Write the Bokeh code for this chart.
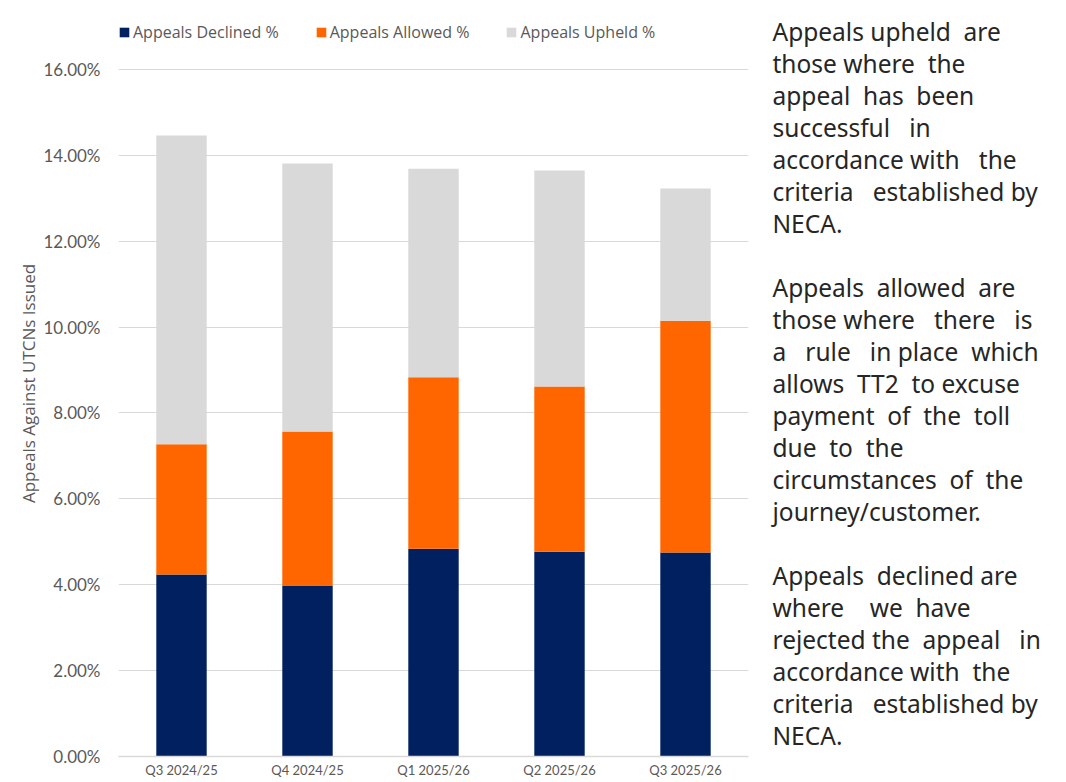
from bokeh.plotting import figure
from bokeh.models import (ColumnDataSource, Range1d, Legend, LegendItem,
                          PrintfTickFormatter, FixedTicker)
from bokeh.layouts import row
from bokeh.core.properties import value
from bokeh.embed import file_html
from bokeh.resources import INLINE

quarters = ["Q3 2024/25", "Q4 2024/25", "Q1 2025/26", "Q2 2025/26", "Q3 2025/26"]
declined = [4.24, 3.98, 4.84, 4.77, 4.75]
allowed = [3.03, 3.59, 3.99, 3.85, 5.40]
upheld = [7.19, 6.24, 4.86, 5.03, 3.08]
series_names = ["Appeals Declined %", "Appeals Allowed %", "Appeals Upheld %"]
y_ticks = [0, 2, 4, 6, 8, 10, 12, 14, 16]

NB = "\u00a0"
notes = [
    "Appeals upheld  are",
    "those where  the",
    "appeal  has  been",
    "successful   in",
    "accordance with   the",
    "criteria   established by",
    "NECA.",
    "",
    "Appeals  allowed  are",
    "those where   there   is",
    "a   rule   in place  which",
    "allows  TT2  to excuse",
    "payment  of  the  toll",
    "due  to  the",
    "circumstances  of  the",
    "journey/customer.",
    "",
    "Appeals  declined are",
    "where    we  have",
    "rejected the  appeal   in",
    "accordance with  the",
    "criteria   established by",
    "NECA.",
]
notes_txt = [s.replace("  ", " " + NB) for s in notes]

colors = ["#002060", "#FF6600", "#D9D9D9"]
tick_font = "Lato"
label_font = "Open Sans"
gray = "#595959"

src = ColumnDataSource(dict(q=quarters, d=declined, a=allowed, u=upheld))

H = 780
TOP, BOT = 10, 24
p = figure(x_range=quarters, y_range=Range1d(0, 17.374), width=758, height=H,
           output_backend="svg", toolbar_location=None,
           min_border_left=118, min_border_right=10, min_border_top=TOP,
           min_border_bottom=BOT)
p.outline_line_color = None
p.background_fill_color = "white"

rs = p.vbar_stack(["d", "a", "u"], x="q", width=0.4, source=src,
                  color=colors, line_color=None)

p.yaxis.ticker = FixedTicker(ticks=y_ticks)
p.yaxis.formatter = PrintfTickFormatter(format="%.2f%%")
p.yaxis.axis_line_color = None
p.yaxis.major_tick_line_color = None
p.yaxis.minor_tick_line_color = None
p.yaxis.major_tick_out = 0
p.yaxis.major_label_standoff = 18
p.yaxis.major_label_text_font = tick_font
p.yaxis.major_label_text_font_size = "17px"
p.yaxis.major_label_text_color = gray
p.yaxis.axis_label = "Appeals Against UTCNs Issued"
p.yaxis.axis_label_text_font = label_font
p.yaxis.axis_label_text_font_style = "normal"
p.yaxis.axis_label_text_font_size = "17px"
p.yaxis.axis_label_text_color = gray
p.yaxis.axis_label_standoff = 0

p.xaxis.axis_line_color = "#D9D9D9"
p.xaxis.axis_line_width = 1.5
p.xaxis.major_tick_line_color = None
p.xaxis.minor_tick_line_color = None
p.xaxis.major_tick_out = 0
p.xaxis.major_label_standoff = 5
p.xaxis.major_label_text_font = tick_font
p.xaxis.major_label_text_font_size = "13px"
p.xaxis.major_label_text_color = gray

p.xgrid.grid_line_color = None
p.ygrid.ticker = FixedTicker(ticks=y_ticks)
p.ygrid.grid_line_color = "#D9D9D9"
p.ygrid.grid_line_width = 1

legend = Legend(items=[LegendItem(label=n, renderers=[r]) for n, r in zip(series_names, rs)],
                orientation="horizontal", location=(0, 713))
legend.background_fill_alpha = 0
legend.border_line_color = None
legend.padding = 0
legend.margin = 0
legend.spacing = 36
legend.label_standoff = 3
legend.glyph_width = 12
legend.glyph_height = 12
legend.label_text_font = label_font
legend.label_text_font_size = "16px"
legend.label_text_color = gray
legend.label_height = 16
p.add_layout(legend)

# explanatory notes panel (frame aligned with the chart's frame: pixel rows TOP..H-BOT)
TW = 300
t = figure(x_range=Range1d(0, TW), y_range=Range1d(H - BOT, TOP), width=TW, height=H,
           output_backend="svg", toolbar_location=None,
           x_axis_location=None, y_axis_location=None,
           min_border_left=0, min_border_right=0, min_border_top=TOP,
           min_border_bottom=BOT)
t.grid.visible = False
t.outline_line_color = None
t.background_fill_color = "white"
ys = [31 + 32 * i for i in range(len(notes_txt))]
tsrc = ColumnDataSource(dict(x=[14] * len(notes_txt), y=ys, text=notes_txt))
t.text(x="x", y="y", text="text", source=tsrc, text_font=value("Noto Sans"),
       text_font_size="24.5px", text_color="#262626", text_baseline="middle")

layout = row(p, t)
open("out.html", "w").write(file_html(layout, INLINE))
